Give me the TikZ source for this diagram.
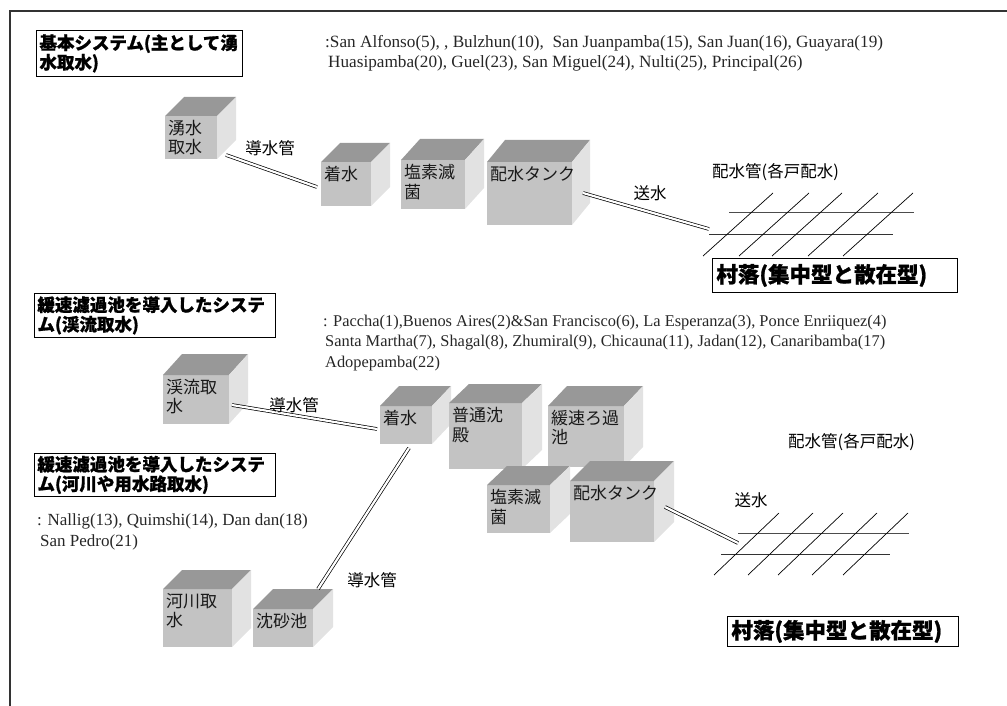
\documentclass[tikz,border=0pt]{standalone}
\usepackage{fontspec}
\setmainfont{Liberation Serif}
\newfontfamily\jp{Noto Sans CJK JP}[BoldFeatures={FakeBold=1}]
\usetikzlibrary{calc}

\definecolor{cubefrontc}{HTML}{C3C3C3}
\definecolor{cubetopc}{HTML}{989898}
\definecolor{cubesidec}{HTML}{E2E2E2}
\definecolor{framec}{HTML}{333333}

\tikzset{
  cubeface/.style={fill=cubefrontc, draw=none, inner sep=0pt, outer sep=0pt},
  cubetop/.style={fill=cubetopc},
  cubeside/.style={fill=cubesidec},
  cubelabel/.style={inner sep=0pt, align=left, text=black!90,
    font=\jp\fontsize{17}{19.5}\selectfont},
  hdr/.style={draw, line width=0.9pt, inner xsep=3pt, inner ysep=1pt, align=left,
    anchor=north west, font=\jp\bfseries\fontsize{17.5}{19.5}\selectfont},
  village/.style={draw, line width=0.9pt, inner xsep=4pt, inner ysep=0pt, anchor=north west,
    align=left, font=\jp\bfseries\fontsize{21.5}{24}\selectfont},
  loc/.style={inner sep=0pt, anchor=base west, text=black!85,
    font=\fontsize{16.4}{20}\selectfont},
  locbig/.style={loc, font=\fontsize{17.2}{20}\selectfont},
  pipelabel/.style={inner sep=0pt, font=\jp\fontsize{16.5}{18}\selectfont},
  pipe/.style={draw=black, double=white, line width=0.7pt, double distance=2.2pt},
  gridline/.style={line width=0.8pt, draw=black!80},
  framing/.style={line width=1.2pt, draw=framec},
}

% a gray box drawn as a block: front face node, top and side faces, label
\newcommand\boxcube[8]{%
  \node[cubeface, minimum width=#4, minimum height=#5, anchor=north west] (#1) at (#2,#3) {};
  \fill[cubetop] (#1.north west) -- ++(#6,-#7) -- ++(#4,0) -- (#1.north east) -- cycle;
  \fill[cubeside] (#1.north east) -- ++(#6,-#7) -- ++(0,#5) -- (#1.south east) -- cycle;
  \node[cubelabel, anchor=north west] (#1-t) at ([shift={(3,4)}]#1.north west) {#8};
}

\begin{document}
\begin{tikzpicture}[x=1pt,y=-1pt]
\useasboundingbox (0,0) rectangle (1007,706);

% page frame
\draw[framing] (10,706) -- (10,11) -- (1007,11);

% ---------------- spring intake system ----------------
\node[hdr, text width=200pt, minimum height=46pt] (h1) at (36,30)
  {基本システム(主として湧\\水取水)};
\node[locbig] (l1a) at (325,48) {:San Alfonso(5), , Bulzhun(10),\ \ San Juanpamba(15), San Juan(16), Guayara(19)};
\node[locbig] (l1b) at (328,68) {Huasipamba(20), Guel(23), San Miguel(24), Nulti(25), Principal(26)};

\boxcube{yusui}{165}{116}{52}{43}{19}{19}{湧水\\取水}
\boxcube{chakuA}{321}{162}{50}{44}{19}{19}{着水}
\boxcube{ensoA}{401}{160}{64}{49}{19}{21}{塩素滅\\菌}
\boxcube{haisuiA}{487}{162}{85}{63}{18}{22}{配水タンク}

\coordinate (pA1) at (226,155);
\coordinate (pA2) at (317,187);
\draw[pipe] (pA1) -- (pA2);
\node[pipelabel] (dA) at (270,148) {導水管};

\coordinate (sA1) at (583,193);
\coordinate (sA2) at (709,229);
\draw[pipe] (sA1) -- (sA2);
\node[pipelabel] (soA) at (650,193) {送水};
\node[pipelabel, anchor=west] (hkA) at (712,172) {配水管(各戸配水)};

% distribution network
\draw[gridline, draw=black!70] (729,212) -- (914,212);
\draw[gridline] (709,234) -- (893,234);
\foreach \bx in {703,739,772,808,843}
  \draw[line width=0.7pt] (\bx,256) -- ++(70,-63);

\node[village, text width=237pt, minimum height=34pt] (vA) at (712,258) {村落(集中型と散在型)};

% ---------------- slow sand filter systems ----------------
\node[hdr, text width=235pt, minimum height=44pt] (h2) at (34,293)
  {緩速濾過池を導入したシステ\\ム(渓流取水)};
\node[loc] (l2a) at (323,326) {: Paccha(1),Buenos Aires(2)\&San Francisco(6), La Esperanza(3), Ponce Enriiquez(4)};
\node[loc] (l2b) at (325,346) {Santa Martha(7), Shagal(8), Zhumiral(9), Chicauna(11), Jadan(12), Canaribamba(17)};
\node[loc] (l2c) at (325,367) {Adopepamba(22)};

\node[hdr, text width=235pt, minimum height=43pt] (h3) at (34,453)
  {緩速濾過池を導入したシステ\\ム(河川や用水路取水)};
\node[loc, font=\fontsize{17}{20}\selectfont] (l3a) at (37,525) {: Nallig(13), Quimshi(14), Dan dan(18)};
\node[loc, font=\fontsize{17}{20}\selectfont] (l3b) at (40,546) {San Pedro(21)};

\boxcube{keiryu}{163}{375}{66}{49}{19}{21}{渓流取\\水}
\boxcube{chakuB}{380}{406}{52}{38}{19}{20}{着水}
\boxcube{futsuu}{449}{403}{73}{66}{20}{19}{普通沈\\殿}
\boxcube{kansoku}{548}{406}{76}{61}{19}{20}{緩速ろ過\\池}
\boxcube{ensoB}{487}{485}{63}{48}{20}{19}{塩素滅\\菌}
\boxcube{haisuiB}{570}{481}{84}{61}{20}{20}{配水タンク}
\boxcube{kasen}{163}{589}{69}{58}{19}{19}{河川取\\水}
\boxcube{chinsa}{253}{609}{60}{38}{20}{20}{沈砂池}

\coordinate (pB1) at (232,405);
\coordinate (pB2) at (377,429);
\draw[pipe] (pB1) -- (pB2);
\node[pipelabel] (dB) at (294,405) {導水管};

\coordinate (pC1) at (409,448);
\coordinate (pC2) at (318,589);
\draw[pipe] (pC1) -- (pC2);
\node[pipelabel] (dC) at (372,580) {導水管};

\coordinate (sB1) at (665,507);
\coordinate (sB2) at (738,543);
\draw[pipe] (sB1) -- (sB2);
\node[pipelabel] (soB) at (751,500) {送水};
\node[pipelabel, anchor=west] (hkB) at (788,442) {配水管(各戸配水)};

\draw[gridline, draw=black!70] (738,533) -- (909,533);
\draw[gridline] (721,554) -- (890,554);
\foreach \bx in {714,748,778,812,843}
  \draw[line width=0.7pt] (\bx,575) -- ++(65,-62);

\node[village, text width=223pt, minimum height=30pt] (vB) at (727,616) {村落(集中型と散在型)};
\end{tikzpicture}
\end{document}
